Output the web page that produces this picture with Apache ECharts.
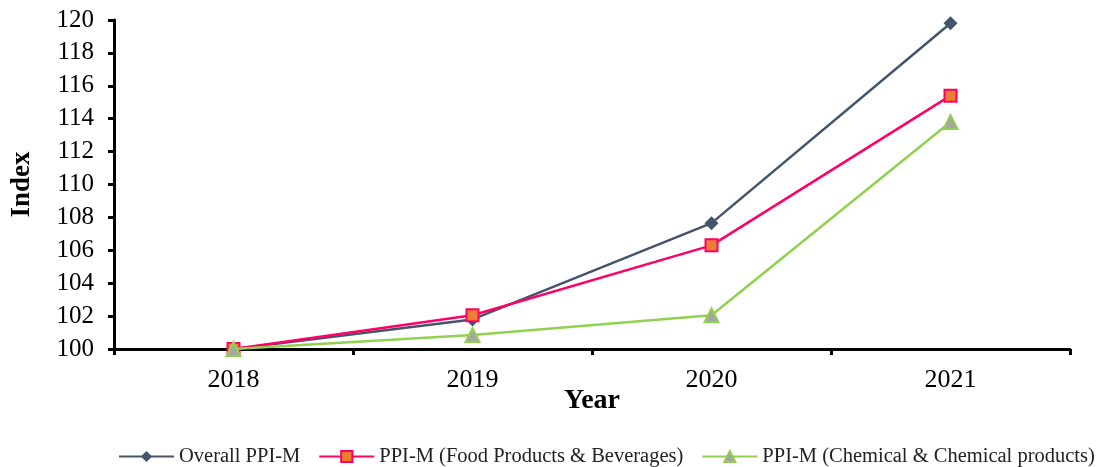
<!DOCTYPE html>
<html>
<head>
<meta charset="utf-8">
<script src="https://cdn.jsdelivr.net/npm/echarts@6/dist/echarts.min.js"></script>
<style>
  html, body { margin: 0; padding: 0; background: #fff; }
  #chart { width: 1098px; height: 467px; }
</style>
</head>
<body>
<div id="chart"></div>
<script>
const years = ['2018', '2019', '2020', '2021'];
const overallPPI = [100, 101.8, 107.65, 119.8];
const foodPPI = [100, 102.05, 106.3, 115.4];
const chemPPI = [100, 100.85, 102.05, 113.8];

const font = 'Liberation Serif, Times New Roman, serif';

let option = {
    animation: false,
    grid: {
        left: 114,
        right: 28,
        top: 20,
        bottom: 118,
        outerBoundsMode: 'none',
        containLabel: false
    },
    legend: {
        bottom: 0,
        left: 118,
        width: 980,
        padding: 0,
        itemGap: 18,
        itemWidth: 55,
        itemHeight: 14,
        textStyle: { fontFamily: font, fontSize: 20.5, color: '#222' },
        data: ['Overall PPI-M', 'PPI-M (Food Products & Beverages)', 'PPI-M (Chemical & Chemical products)']
    },
    xAxis: {
        type: 'category',
        data: years,
        name: 'Year',
        nameLocation: 'middle',
        nameGap: 38,
        nameMoveOverlap: false,
        nameTextStyle: { fontFamily: font, fontSize: 28, fontWeight: 'bold', color: '#000' },
        axisLine: { lineStyle: { color: '#000', width: 3 } },
        axisTick: { show: true, length: 6, lineStyle: { color: '#000', width: 3 } },
        axisLabel: { fontFamily: font, fontSize: 26, color: '#000', margin: 18 },
        splitLine: { show: false }
    },
    yAxis: {
        type: 'value',
        min: 100,
        max: 120,
        interval: 2,
        name: 'Index',
        nameLocation: 'middle',
        nameGap: 78,
        nameMoveOverlap: false,
        nameTextStyle: { fontFamily: font, fontSize: 27, fontWeight: 'bold', color: '#000' },
        axisLine: { show: true, lineStyle: { color: '#000', width: 3 } },
        axisTick: { show: true, length: 6, lineStyle: { color: '#000', width: 3 } },
        axisLabel: { fontFamily: font, fontSize: 25, color: '#000', margin: 20 },
        splitLine: { show: false }
    },
    series: [
        {
            name: 'Overall PPI-M',
            type: 'line',
            data: overallPPI,
            symbol: 'diamond',
            symbolSize: 14,
            lineStyle: { color: '#44546A', width: 2.5 },
            itemStyle: { color: '#44546A' },
            z: 3
        },
        {
            name: 'PPI-M (Food Products & Beverages)',
            type: 'line',
            data: foodPPI,
            symbol: 'rect',
            symbolSize: 12,
            lineStyle: { color: '#FF0066', width: 2.5 },
            itemStyle: { color: '#ED7D31', borderColor: '#FF0066', borderWidth: 2 },
            z: 4
        },
        {
            name: 'PPI-M (Chemical & Chemical products)',
            type: 'line',
            data: chemPPI,
            symbol: 'triangle',
            symbolSize: 14,
            lineStyle: { color: '#92D050', width: 2.5 },
            itemStyle: { color: '#A5A5A5', borderColor: '#92D050', borderWidth: 2 },
            z: 5
        }
    ]
};

let myChart = echarts.init(document.getElementById('chart'));
myChart.setOption(option);
</script>
</body>
</html>
